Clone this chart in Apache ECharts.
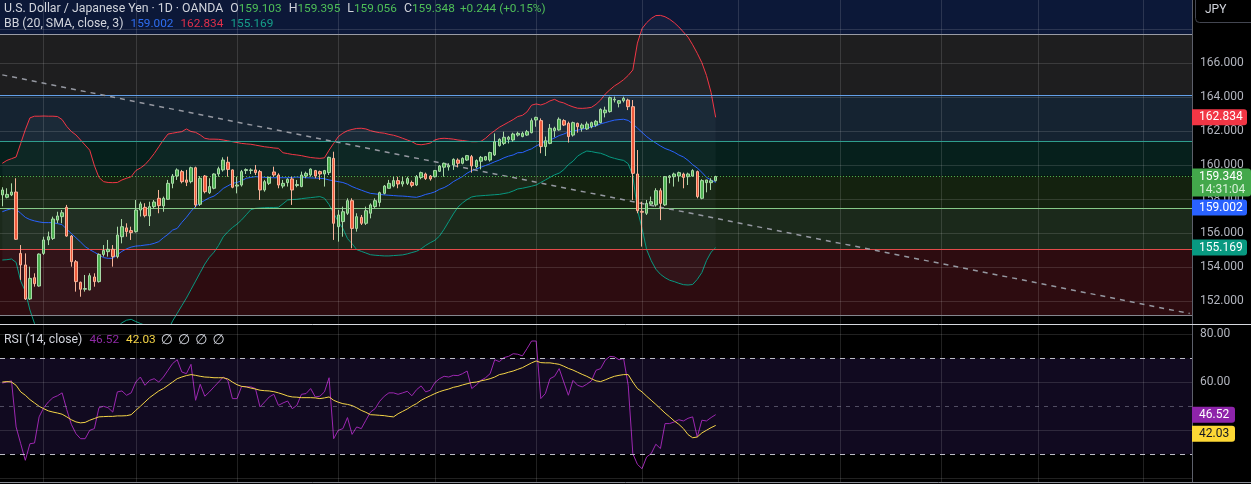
<!DOCTYPE html>
<html><head><meta charset="utf-8">
<script src="https://cdn.jsdelivr.net/npm/echarts@6/dist/echarts.min.js"></script>
<style>html,body{margin:0;padding:0;background:#000;overflow:hidden}#c{width:1251px;height:484px}</style>
</head><body><div id="c"></div>
<script>
// ---- data ----
const opens = [158.27,158.13,158.27,158.44,154.83,154.15,152.15,153.40,152.91,154.83,
155.62,155.71,156.79,156.99,157.54,155.85,154.34,153.13,152.72,152.68,
153.44,153.17,154.77,154.93,155.07,154.64,155.81,156.33,156.17,156.11,
157.38,157.54,157.03,157.58,158.07,157.62,158.01,158.95,159.38,159.64,
159.15,159.05,159.87,157.72,159.38,158.40,158.66,159.50,159.74,160.19,
159.74,158.79,158.85,159.70,159.70,159.74,159.64,158.56,158.95,159.62,
159.44,158.79,158.99,159.21,158.82,158.76,159.38,159.44,159.70,159.64,
159.50,159.58,160.42,156.40,156.70,157.19,157.93,156.30,156.95,156.60,
157.19,157.58,157.83,158.36,158.66,158.79,159.11,158.91,158.95,159.00,
158.85,159.29,159.50,159.38,159.34,159.66,159.90,159.91,160.03,160.32,
160.13,160.32,160.52,159.93,160.25,160.32,160.32,160.62,161.17,161.30,
161.54,161.50,161.79,161.70,161.79,161.93,162.68,162.64,161.11,161.30,
162.05,162.09,162.64,162.48,161.79,162.48,162.19,162.15,162.28,162.38,
162.52,163.10,163.17,163.85,163.66,163.81,163.85,163.46,159.50,157.30,
157.19,157.73,157.68,158.52,157.68,159.30,159.34,159.38,159.50,159.34,
159.38,159.64,158.07,158.99,158.99,159.103];
const closes = [158.56,158.30,158.44,155.66,154.15,152.15,153.36,153.05,154.79,155.62,
155.81,156.85,157.03,157.22,155.85,154.34,153.17,152.72,152.76,153.52,
153.17,154.77,155.00,155.07,154.64,155.91,156.40,156.11,156.05,157.38,
157.74,157.05,157.58,157.85,157.64,158.07,158.95,159.38,159.74,159.05,
159.01,159.87,157.68,159.25,158.46,158.76,159.50,159.81,160.32,159.77,
158.72,158.85,159.64,159.76,159.74,159.58,158.56,159.05,159.30,159.44,
158.85,158.95,159.19,158.56,158.88,159.44,159.54,159.79,159.38,159.50,
159.70,160.48,156.60,157.09,157.28,157.93,156.30,156.99,156.60,157.34,
157.68,157.93,158.40,158.79,158.95,159.11,158.91,159.05,159.23,158.83,
159.34,159.58,159.23,159.21,159.70,159.97,160.13,160.01,160.36,160.13,
160.42,160.58,159.97,160.29,160.48,160.52,160.76,161.40,161.54,161.66,
161.66,161.85,161.89,161.89,161.99,162.64,162.83,161.11,161.46,162.19,
162.19,162.72,162.38,161.70,162.52,162.28,162.38,162.44,162.52,162.60,
163.30,163.26,163.99,163.90,163.81,163.95,163.46,159.54,157.34,157.25,
157.77,157.87,158.52,157.77,159.34,159.38,159.50,159.58,159.30,159.50,
159.70,158.17,159.11,159.15,159.104,159.348];
const lows = [157.60,158.07,158.20,155.62,153.27,152.09,152.09,152.87,152.87,154.74,
155.32,155.62,156.60,156.60,155.81,154.05,152.58,152.28,152.58,152.66,
152.87,153.11,154.64,154.64,154.05,154.54,155.42,155.81,155.62,156.05,
157.00,156.95,156.44,157.48,157.19,157.28,157.97,158.66,159.15,158.95,
158.79,158.95,157.54,157.62,158.36,158.32,158.60,159.34,159.64,159.34,
158.66,158.36,158.76,159.50,159.50,159.44,157.97,158.46,158.85,159.34,
158.66,158.66,158.76,157.68,158.72,158.72,159.25,159.34,159.25,159.15,
158.76,159.44,155.62,155.52,155.81,157.09,155.13,156.11,156.50,156.50,
156.89,157.48,157.58,158.30,158.66,158.72,158.66,158.76,158.85,158.72,
158.79,159.19,159.15,159.11,159.29,159.62,159.34,159.70,159.74,159.89,
160.07,160.27,159.58,159.83,159.77,160.29,160.23,160.56,161.11,161.20,
161.30,161.40,161.70,161.66,161.74,161.89,162.28,160.72,160.56,161.25,
161.66,162.05,162.32,161.35,161.70,161.93,161.99,162.09,162.19,162.28,
162.48,162.83,163.11,163.71,163.42,163.71,163.26,157.97,157.19,155.23,
157.09,157.68,157.58,156.79,157.62,158.95,158.76,159.05,158.66,158.85,
159.34,158.07,158.01,158.42,158.56,159.056];
const highs = [158.72,158.66,158.95,159.25,155.32,154.83,154.05,153.66,154.83,155.81,
156.11,156.99,157.28,157.38,157.68,155.91,154.44,153.17,153.56,153.66,
153.66,154.83,155.32,155.62,155.32,156.40,156.85,156.60,156.40,157.97,
157.87,157.78,157.87,157.97,158.56,158.17,159.15,159.50,159.83,159.74,
159.74,159.93,159.93,159.38,159.44,159.25,159.54,159.93,160.48,160.52,
159.77,159.34,159.74,159.83,159.83,160.03,159.74,159.15,159.34,159.93,
159.54,159.15,159.25,159.34,159.15,159.64,159.64,159.83,159.74,159.70,
159.74,160.52,160.81,157.38,157.58,158.07,158.07,157.19,157.09,157.58,
157.77,158.07,158.46,158.85,159.15,159.34,159.34,159.34,159.34,159.11,
159.44,159.64,159.58,159.44,159.74,160.03,160.17,160.13,160.42,160.42,
160.48,160.62,160.62,160.36,160.56,160.56,160.81,161.89,161.60,161.99,
161.74,161.93,161.99,161.99,162.09,162.77,162.87,162.77,161.70,162.44,
162.28,162.83,162.72,162.58,162.58,162.52,162.48,162.58,162.58,162.68,
163.36,163.46,164.05,164.05,163.85,164.05,163.93,163.85,160.91,157.87,
157.97,158.17,158.66,158.66,159.38,159.44,159.58,159.64,159.58,159.58,
159.78,159.70,159.19,159.15,159.25,159.395];
const bbUpper = [160.13,160.3,160.4,160.5,161.3,162.1,162.8,162.9,162.9,162.91,
162.9,162.9,162.88,162.7,162.3,162.0,161.8,161.5,161.2,160.9,
160.0,159.3,159.05,159.0,158.99,159.0,159.15,159.25,159.34,159.7,
159.85,160.05,160.35,160.7,161.1,161.5,161.85,161.9,161.95,161.99,
162.15,162.0,161.95,161.8,161.6,161.55,161.55,161.54,161.5,161.45,
161.4,161.35,161.3,161.27,161.25,161.2,161.15,161.1,161.07,161.03,
161.01,160.75,160.7,160.65,160.62,160.58,160.52,160.47,160.44,160.42,
160.45,160.9,161.3,161.7,161.9,162.05,162.12,162.18,162.19,162.15,
162.05,161.98,161.93,161.9,161.83,161.78,161.7,161.6,161.5,161.4,
161.25,161.22,161.26,161.32,161.5,161.58,161.6,161.58,161.55,161.5,
161.47,161.43,161.4,161.4,161.42,161.6,161.85,162.05,162.25,162.4,
162.55,162.7,162.88,162.95,163.15,163.55,163.62,163.56,163.65,163.8,
163.89,163.75,163.68,163.55,163.45,163.37,163.36,163.38,163.42,163.6,
163.85,164.2,164.45,164.68,164.85,165.05,165.3,165.62,167.2,168.05,
168.4,168.65,168.82,168.83,168.75,168.6,168.4,168.15,167.85,167.55,
167.1,166.6,166.05,165.3,164.3,162.834];
const bbBasis = [157.28,157.38,157.46,157.42,157.19,156.95,156.82,156.74,156.68,156.64,
156.64,156.64,156.58,156.52,156.25,156.0,155.75,155.5,155.23,155.05,
154.9,154.75,154.58,154.54,154.54,154.75,154.95,155.1,155.2,155.26,
155.28,155.32,155.35,155.42,155.52,155.75,155.95,156.2,156.3,156.65,
156.95,157.3,157.6,157.8,157.95,158.1,158.2,158.4,158.65,158.8,
158.95,159.0,159.1,159.25,159.3,159.34,159.33,159.3,159.29,159.28,
159.28,159.28,159.28,159.3,159.32,159.3,159.28,159.27,159.26,159.25,
159.22,159.15,159.1,159.05,159.0,158.9,158.76,158.65,158.55,158.45,
158.36,158.33,158.3,158.27,158.25,158.23,158.21,158.2,158.18,158.15,
158.13,158.2,158.3,158.36,158.45,158.6,158.7,158.85,159.05,159.2,
159.35,159.55,159.7,159.8,159.9,160.0,160.1,160.22,160.32,160.45,
160.55,160.62,160.75,160.76,160.88,160.98,161.15,161.28,161.38,161.5,
161.62,161.76,161.85,161.97,162.02,162.08,162.13,162.2,162.27,162.33,
162.45,162.52,162.6,162.67,162.7,162.72,162.65,162.45,162.2,161.95,
161.7,161.5,161.32,161.15,161.0,160.9,160.78,160.62,160.5,160.3,
160.05,159.85,159.6,159.3,159.15,159.002];
const bbLower = [154.44,154.46,154.5,154.3,153.2,152.6,151.5,150.7,150.45,150.37,
150.38,150.38,150.3,150.34,150.2,150.0,149.7,149.5,149.3,149.2,
149.7,150.2,150.1,150.1,150.1,150.5,150.75,150.9,150.95,150.82,
150.71,150.6,150.4,150.2,150.0,150.0,150.3,150.85,151.3,151.75,
152.2,152.7,153.2,153.7,154.2,154.6,154.9,155.3,155.8,156.1,
156.35,156.55,156.8,157.1,157.4,157.48,157.5,157.52,157.53,157.53,
157.54,157.75,157.97,158.0,158.01,158.05,158.08,158.11,158.14,158.17,
158.07,157.7,157.19,156.7,156.3,155.7,155.4,155.05,154.95,154.85,
154.75,154.72,154.7,154.68,154.68,154.7,154.72,154.74,154.8,154.88,
154.95,155.1,155.3,155.46,155.6,155.85,156.25,156.7,157.15,157.55,
157.8,158.0,158.15,158.2,158.22,158.24,158.26,158.28,158.3,158.35,
158.4,158.5,158.62,158.66,158.72,158.78,158.85,159.0,159.15,159.3,
159.45,159.55,159.75,160.05,160.25,160.55,160.72,160.85,160.82,160.76,
160.72,160.62,160.5,160.42,160.35,160.3,160.1,159.4,157.4,156.3,
155.05,154.4,153.9,153.6,153.4,153.25,153.17,153.07,152.99,152.97,
153.0,153.3,153.7,154.4,154.9,155.169];
const rsi = [59.7,60.1,60.6,41.4,34.4,27.5,34.4,34.7,45.6,49.4,
51.8,53.6,54.4,55.6,48.6,42.5,38.6,36.5,36.5,40.0,
40.7,49.4,50.0,49.4,47.6,56.0,56.4,54.6,55.6,60.1,
62.2,58.75,60.8,61.5,60.1,62.2,65.0,67.8,69.4,64.3,
63.6,67.5,52.5,59.2,54.2,56.0,58.1,60.1,62.2,60.8,
53.2,53.2,58.3,58.1,58.1,57.4,49.7,51.8,53.9,55.0,
50.4,51.4,52.2,49.0,50.4,55.0,55.3,57.4,53.9,54.2,
56.0,61.9,36.5,40.0,40.7,45.3,38.3,41.4,40.7,44.2,
47.6,49.0,52.1,54.2,55.6,55.6,55.0,55.6,56.25,54.4,
56.9,58.5,56.0,56.7,59.9,61.5,62.5,62.2,62.9,62.8,
63.6,64.7,57.4,58.9,60.8,61.9,63.6,69.4,68.6,70.3,
70.8,71.9,71.7,71.0,74.0,77.2,77.2,53.2,55.3,61.5,
62.5,65.7,60.1,54.6,60.8,58.75,58.1,59.2,60.6,65.0,
65.7,69.2,70.8,70.6,69.4,69.9,58.75,30.3,25.8,24.0,
28.9,30.3,34.2,32.4,42.8,42.8,43.5,44.4,43.9,45.0,
45.6,37.2,44.2,43.9,45.3,46.52];
const rsiMA = [60.1,60.3,60.1,58.75,56.0,54.6,52.8,51.4,50.0,49.0,
48.1,47.6,47.2,46.7,45.6,44.4,43.5,43.1,43.3,44.2,
44.9,45.6,45.7,45.8,45.8,46.0,46.0,46.1,46.5,48.3,
50.0,51.8,53.6,55.0,56.4,57.4,58.75,60.1,61.5,62.2,
62.8,63.2,62.9,62.5,62.2,62.1,61.9,61.9,61.9,61.4,
60.1,59.0,58.3,58.1,57.6,57.2,56.7,56.5,56.4,56.1,
55.6,55.0,54.3,53.9,53.8,53.6,53.6,53.6,53.5,53.2,
53.5,53.9,52.5,51.7,51.1,50.8,50.3,49.4,48.3,47.5,
46.5,46.4,46.25,46.1,45.8,45.6,46.9,47.9,48.9,50.1,
51.1,52.5,53.5,54.4,55.3,56.1,56.7,57.2,57.9,58.3,
58.9,59.4,59.9,60.1,60.6,61.0,61.5,62.2,63.2,63.6,
64.2,64.7,65.4,66.1,67.1,68.1,68.9,68.2,68.1,68.1,
67.8,67.5,66.7,65.8,65.1,64.2,63.3,62.5,61.5,60.6,
60.3,61.0,61.8,62.5,62.9,63.2,63.2,60.1,57.4,56.0,
54.2,52.5,50.8,49.0,47.2,45.6,43.9,42.5,40.7,38.2,
36.9,37.2,38.9,40.0,41.1,42.03];
const slotCount = 259;                 // bars + empty right margin
const monthGridIdx = [9,29,51,73,94,116,139,160,182,204,225,248];
const priceTickLabels = [152,154,156,158,160,162,164,166];
const priceGridLevels = [152,154,156,158,160,162,164,166,168];
const priceRange = [150.676,169.735];
const rsiTickLabels = [80,60];
const rsiGridLevels = [80,60,40,20];
const rsiRange = [18.458,83.875];
const rsiBand = [30,70];
const rsiDashLevels = [70,50,30];
const zoneEdges = [151.2,155.09,157.48,159.4,161.4,164.15,167.735,169.735];
const zoneFills = ['#2d0c10','#1b291b','#14220f','#06201c','#152331','#1e1e1f','#0c1838'];
const zoneLineLevels = [151.2,155.09,157.48,161.4,164.15,167.735];
const zoneLineColors = ['#85878f','#e24a4a','#86c988','#2f9e8e','#64a0e8','#9a9ca5'];
const trendLine = [[0,165.33],[258,151.29]];
const clockText = '14:31:04';

// ---- chart ----
const slots = Array.from({length: slotCount}, (_, i) => String(i));
const candles = opens.map((o, i) => [o, closes[i], lows[i], highs[i]]);
const bbSpan = bbUpper.map((u, i) => +(u - bbLower[i]).toFixed(4));
const last = closes.length - 1;
const FONT = 'Roboto, "DejaVu Sans", sans-serif';
const LF = '12.3px ' + FONT;
const VF = '11.8px ' + FONT;
const gridLine = {color: 'rgba(255,255,255,0.13)', width: 1, type: 'solid'};

const chart = echarts.init(document.getElementById('c'), null, {renderer: 'canvas'});
const P = {xAxisIndex: 0, yAxisIndex: 0};
const R = {xAxisIndex: 1, yAxisIndex: 1};
const noSym = ['none', 'none'];

const option = {
  animation: false,
  backgroundColor: '#000000',
  grid: [
    {left: -0.5, top: 0, width: 1192.5, height: 324},
    {left: -0.5, top: 325, width: 1192.5, height: 157}
  ],
  xAxis: [0, 1].map(g => ({
    type: 'category', gridIndex: g, data: slots, boundaryGap: true,
    axisLine: {show: false}, axisTick: {show: false}, axisLabel: {show: false}, splitLine: {show: false}
  })),
  yAxis: [
    {type: 'value', gridIndex: 0, position: 'right', min: priceRange[0], max: priceRange[1],
     axisLine: {show: true, lineStyle: {color: '#5d606b'}}, axisTick: {show: false}, splitLine: {show: false},
     axisLabel: {customValues: priceTickLabels, formatter: v => v.toFixed(3), color: '#b2b5be', fontSize: 12, fontFamily: FONT, margin: 8}},
    {type: 'value', gridIndex: 1, position: 'right', min: rsiRange[0], max: rsiRange[1],
     axisLine: {show: true, lineStyle: {color: '#5d606b'}}, axisTick: {show: false}, splitLine: {show: false},
     axisLabel: {customValues: rsiTickLabels, formatter: v => v.toFixed(2), color: '#b2b5be', fontSize: 12, fontFamily: FONT, margin: 8}}
  ],
  series: [
    Object.assign({type: 'line', name: 'zones', data: [], z: 1, silent: true,
      markArea: {silent: true, data: zoneFills.map((c, k) => [{yAxis: zoneEdges[k], itemStyle: {color: c}}, {yAxis: zoneEdges[k + 1]}])}
    }, P),
    Object.assign({type: 'line', name: 'grid', data: [], z: 2, silent: true,
      markLine: {silent: true, symbol: noSym, label: {show: false}, animation: false,
        data: priceGridLevels.map(v => ({yAxis: v, lineStyle: gridLine}))
          .concat(monthGridIdx.map(i => ({xAxis: i, lineStyle: gridLine})))
          .concat(zoneLineLevels.map((v, k) => ({yAxis: v, lineStyle: {color: zoneLineColors[k], width: 1, type: 'solid'}})))
          .concat([[{coord: trendLine[0], lineStyle: {color: '#9598a1', width: 1.5, type: [5, 5]}}, {coord: trendLine[1]}]])
      }
    }, P),
    Object.assign({type: 'line', name: 'bbBase', data: bbLower, stack: 'bb', symbol: 'none', z: 3, silent: true,
      lineStyle: {opacity: 0}}, P),
    Object.assign({type: 'line', name: 'bbFill', data: bbSpan, stack: 'bb', symbol: 'none', z: 3, silent: true,
      lineStyle: {opacity: 0}, areaStyle: {color: 'rgba(150,170,205,0.075)'}}, P),
    Object.assign({type: 'line', name: 'upper', data: bbUpper, symbol: 'none', z: 4, lineStyle: {color: '#f23645', width: 1}}, P),
    Object.assign({type: 'line', name: 'basis', data: bbBasis, symbol: 'none', z: 4, lineStyle: {color: '#2962ff', width: 1}}, P),
    Object.assign({type: 'line', name: 'lower', data: bbLower, symbol: 'none', z: 4, lineStyle: {color: '#089981', width: 1}}, P),
    Object.assign({type: 'candlestick', name: 'USDJPY', data: candles, z: 5, barWidth: 3,
      itemStyle: {color: '#4caf50', color0: '#ef5a3c', borderColor: '#a8d8a6', borderColor0: '#f7b49a', borderWidth: 1},
      markLine: {silent: true, symbol: noSym, label: {show: false}, animation: false,
        data: [{yAxis: closes[last], lineStyle: {color: '#4caf50', width: 1, type: [1, 2]}}]}
    }, P),
    Object.assign({type: 'line', name: 'rsiBg', data: [], z: 1, silent: true,
      markArea: {silent: true, data: [[{yAxis: rsiBand[0], itemStyle: {color: '#110a20'}}, {yAxis: rsiBand[1]}]]},
      markLine: {silent: true, symbol: noSym, label: {show: false}, animation: false,
        data: rsiGridLevels.map(v => ({yAxis: v, lineStyle: gridLine}))
          .concat(monthGridIdx.map(i => ({xAxis: i, lineStyle: gridLine})))
          .concat(rsiDashLevels.map(v => ({yAxis: v, lineStyle: v === 50
            ? {color: 'rgba(160,160,180,0.45)', width: 1, type: [4, 5]}
            : {color: 'rgba(220,220,230,0.85)', width: 1, type: [5, 5]}})))
      }
    }, R),
    Object.assign({type: 'line', name: 'RSI', data: rsi, symbol: 'none', z: 4, lineStyle: {color: '#9c27b0', width: 1}}, R),
    Object.assign({type: 'line', name: 'RSI MA', data: rsiMA, symbol: 'none', z: 4, lineStyle: {color: '#f5d547', width: 1}}, R)
  ]
};
chart.setOption(option);

// ---- chrome, legends and price tags ----
const fmt3 = v => v.toFixed(3);
const chg = closes[last] - closes[last - 1];
const pct = chg / closes[last - 1] * 100;
const graphics = [];
const lbl = {fill: '#d1d4dc', font: LF, padding: [0, 0, 0, 4]};
const val = {fill: '#4fbf58', font: VF};

graphics.push({type: 'text', z: 100, style: {
  x: 4, y: 9, verticalAlign: 'middle', font: LF, fill: '#d1d4dc',
  text: 'U.S. Dollar / Japanese Yen · 1D · OANDA {l|O}{v|' + fmt3(opens[last]) + '} {l|H}{v|' + fmt3(highs[last]) +
        '} {l|L}{v|' + fmt3(lows[last]) + '} {l|C}{v|' + fmt3(closes[last]) + '} {s|' +
        (chg >= 0 ? '+' : '') + chg.toFixed(3) + ' (' + (pct >= 0 ? '+' : '') + pct.toFixed(2) + '%)}',
  rich: {l: lbl, v: val, s: {fill: '#4fbf58', font: VF, padding: [0, 0, 0, 2]}}
}});
graphics.push({type: 'text', z: 100, style: {
  x: 4, y: 24, verticalAlign: 'middle', font: LF, fill: '#d1d4dc',
  text: 'BB (20, SMA, close, 3) {b|' + fmt3(bbBasis[last]) + '} {r|' + fmt3(bbUpper[last]) + '} {g|' + fmt3(bbLower[last]) + '}',
  rich: {b: {fill: '#2f6ef0', font: VF, padding: [0, 0, 0, 4]}, r: {fill: '#e0304a', font: VF, padding: [0, 0, 0, 4]}, g: {fill: '#16a08a', font: VF, padding: [0, 0, 0, 4]}}
}});
graphics.push({type: 'text', z: 100, style: {
  x: 4, y: 340, verticalAlign: 'middle', font: LF, fill: '#d1d4dc',
  text: 'RSI (14, close) {p|' + rsi[last].toFixed(2) + '} {y|' + rsiMA[last].toFixed(2) + '} {n|∅} {n|∅} {n|∅} {n|∅}',
  rich: {p: {fill: '#8e2aa5', font: VF, padding: [0, 0, 0, 4]}, y: {fill: '#f5d547', font: VF, padding: [0, 0, 0, 4]},
         n: {fill: '#d1d4dc', font: '14px ' + FONT, padding: [0, 0, 0, 2]}}
}});
graphics.push({type: 'line', z: 90, shape: {x1: 0, y1: 324.5, x2: 1251, y2: 324.5}, style: {stroke: '#d6d8de', lineWidth: 1}});
graphics.push({type: 'line', z: 90, shape: {x1: 0, y1: 482.5, x2: 1251, y2: 482.5}, style: {stroke: '#8a8d96', lineWidth: 1}});
graphics.push({type: 'rect', z: 100, shape: {x: 1195.5, y: -4, width: 62, height: 26.5, r: 4}, style: {fill: '#000', stroke: '#434651', lineWidth: 1}});
graphics.push({type: 'text', z: 101, style: {x: 1205, y: 10, verticalAlign: 'middle', text: 'JPY', font: '12px ' + FONT, fill: '#d1d4dc'}});

function placeTags(list, axisIdx) {
  const items = list.map(t => Object.assign({}, t, {y: chart.convertToPixel({yAxisIndex: axisIdx}, t.value)}));
  items.sort((a, b) => a.y - b.y);
  let prevBottom = -1e9;
  items.forEach(t => {
    const h = t.lines.length > 1 ? 28 : 16;
    let top = t.y - 8;
    if (top < prevBottom + 3) top = prevBottom + 3;
    t.top = top; t.h = h; prevBottom = top + h;
  });
  items.forEach(t => {
    graphics.push({type: 'rect', z: 110, shape: {x: 1192, y: t.top, width: t.w, height: t.h, r: [0, 3, 3, 0]}, style: {fill: t.bg}});
    t.lines.forEach((s, k) => {
      graphics.push({type: 'text', z: 111, style: {x: 1199, y: t.top + 8 + k * 13, verticalAlign: 'middle',
        text: s, font: '12px ' + FONT, fill: k === 0 ? t.fg : (t.fg2 || t.fg)}});
    });
  });
}
placeTags([
  {value: bbUpper[last], lines: [fmt3(bbUpper[last])], bg: '#f23645', fg: '#ffffff', w: 55},
  {value: closes[last], lines: [fmt3(closes[last]), clockText], bg: '#43a84b', fg: '#ffffff', fg2: '#d8f2d8', w: 59},
  {value: bbBasis[last], lines: [fmt3(bbBasis[last])], bg: '#2962ff', fg: '#ffffff', w: 55},
  {value: bbLower[last], lines: [fmt3(bbLower[last])], bg: '#089981', fg: '#ffffff', w: 55}
], 0);
placeTags([
  {value: rsi[last], lines: [rsi[last].toFixed(2)], bg: '#8e24aa', fg: '#ffffff', w: 43},
  {value: rsiMA[last], lines: [rsiMA[last].toFixed(2)], bg: '#fdd835', fg: '#131722', w: 43}
], 1);

chart.setOption({graphic: graphics});
</script>
</body></html>
